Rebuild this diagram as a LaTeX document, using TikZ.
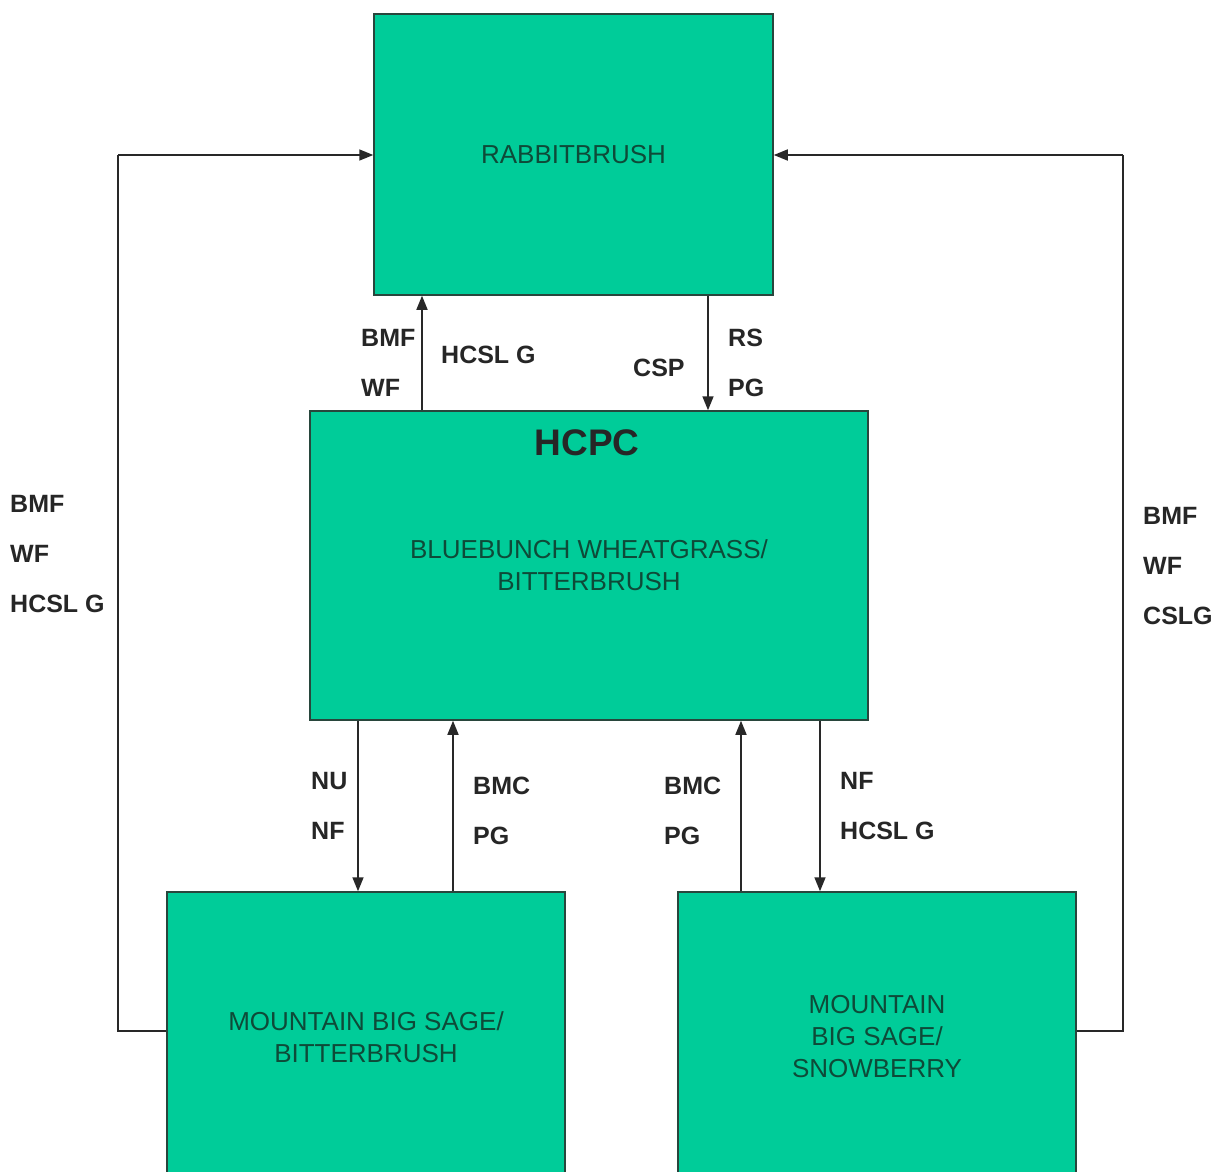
\documentclass[tikz,border=0pt]{standalone}
\usepackage{fontspec}
\setmainfont{Liberation Sans}
\usepackage{xcolor}
\usetikzlibrary{positioning,%
  arrows.meta,%
  calc%
}
\definecolor{boxgreen}{RGB}{0,204,153}
\definecolor{boxtext}{RGB}{14,74,56}
\definecolor{boxline}{RGB}{40,70,60}
\definecolor{linegray}{RGB}{40,40,40}

\begin{document}
\begin{tikzpicture}
                    [
                        x=1pt, y=-1pt,
                        state/.style={draw=boxline, line width=1.5pt, fill=boxgreen, rectangle,
                            text=boxtext, align=center, font=\fontsize{26}{32}\selectfont},
                        cause/.style={inner sep=0pt, align=left, anchor=west,
                            font=\bfseries\fontsize{25}{50}\selectfont, text=black!85},
                        arr/.style={draw=linegray, line width=1.6pt, -{Triangle[length=14pt,width=11pt]}},
                        loop/.style={draw=linegray, line width=1.6pt}
                    ]

                    % Rahmen
                    \clip (0,0) rectangle (1215,1171);
                    \fill[white] (0,0) rectangle (1215,1171);

                    % Zustaende
                    \node[state, minimum width=399pt, minimum height=281pt] (rabbit) at (573.5,154.5) {RABBITBRUSH};
                    \node[state, minimum width=558pt, minimum height=309pt] (hcpc) at (589,565.5) {BLUEBUNCH WHEATGRASS/\\BITTERBRUSH};
                    \node[inner sep=0pt, font=\bfseries\fontsize{37}{40}\selectfont, text=black!85] (hcpctitle) at (587,443) {HCPC};
                    \node[state, minimum width=398pt, minimum height=290pt] (mbsb) at (366,1037) {MOUNTAIN BIG SAGE/\\BITTERBRUSH};
                    \node[state, minimum width=398pt, minimum height=290pt] (mbss) at (877,1037) {MOUNTAIN\\BIG SAGE/\\SNOWBERRY};

                    % Uebergaenge
                    \draw[arr] (hcpc.north -| 422,0) -- (rabbit.south -| 422,0);
                    \draw[arr] (rabbit.south -| 708,0) -- (hcpc.north -| 708,0);
                    \draw[arr] (hcpc.south -| 358,0) -- (mbsb.north -| 358,0);
                    \draw[arr] (mbsb.north -| 453,0) -- (hcpc.south -| 453,0);
                    \draw[arr] (mbss.north -| 741,0) -- (hcpc.south -| 741,0);
                    \draw[arr] (hcpc.south -| 820,0) -- (mbss.north -| 820,0);
                    \draw[loop] (mbsb.west |- 0,1031) -- (118,1031) -- (118,155);
                    \draw[arr] (118,155) -- (rabbit.west |- 0,155);
                    \draw[loop] (mbss.east |- 0,1031) -- (1123,1031) -- (1123,155);
                    \draw[arr] (1123,155) -- (rabbit.east |- 0,155);

                    % Beschriftungen
                    \node[cause] (c1) at (361,363) {BMF\\WF};
                    \node[cause] (c2) at (441,355) {HCSL G};
                    \node[cause] (c3) at (633,368) {CSP};
                    \node[cause] (c4) at (728,363) {RS\\PG};
                    \node[cause] (c5) at (311,806) {NU\\NF};
                    \node[cause] (c6) at (473,811) {BMC\\PG};
                    \node[cause] (c7) at (664,811) {BMC\\PG};
                    \node[cause] (c8) at (840,806) {NF\\HCSL G};
                    \node[cause] (c9) at (10,554) {BMF\\WF\\HCSL G};
                    \node[cause] (c10) at (1143,566) {BMF\\WF\\CSLG};
                \end{tikzpicture}
\end{document}
